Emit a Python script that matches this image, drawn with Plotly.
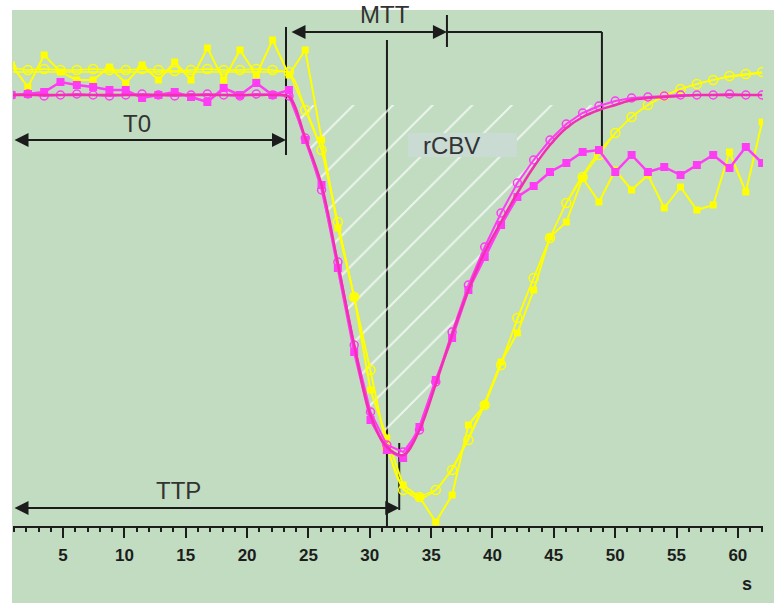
import numpy as np
import plotly.graph_objects as go

# Acquisition times of the dynamic series (s)
time_s = [0.8, 2.13, 3.46, 4.79, 6.12, 7.45, 8.78, 10.11, 11.44, 12.77,
          14.1, 15.43, 16.76, 18.09, 19.42, 20.75, 22.08, 23.41, 24.74, 26.07,
          27.4, 28.73, 30.06, 31.39, 32.72, 34.05, 35.38, 36.71, 38.04, 39.37,
          40.7, 42.03, 43.36, 44.69, 46.02, 47.35, 48.68, 50.01, 51.34, 52.67,
          54.0, 55.33, 56.66, 57.99, 59.32, 60.65, 61.98]

# Signal intensity (arbitrary units) - region 1 (magenta)
magenta_raw = [431, 432, 434, 444, 441, 439, 436, 436, 428, 431,
               434, 429, 424, 438, 431, 443, 431, 436, 386, 341,
               258, 174, 106, 76, 68, 99, 146, 188, 236, 269,
               301, 329, 340, 354, 363, 374, 376, 354, 371, 354,
               359, 351, 361, 371, 358, 379, 363]
magenta_smooth = [431, 432, 430, 431, 432, 431, 430, 431, 432, 431,
                  430, 431, 432, 431, 430, 432, 431, 430, 388, 336,
                  264, 181, 114, 81, 74, 96, 144, 194, 241, 279,
                  313, 343, 366, 386, 402, 413, 420, 425, 428, 429,
                  430, 431, 431, 431, 432, 431, 431]
magenta_fit = [431, 431, 431, 431, 431, 431, 431, 431, 431, 431,
               431, 431, 431, 431, 431, 431, 431, 429, 388, 341,
               262, 181, 111, 79, 71, 96, 142, 191, 236, 274,
               304, 333, 359, 381, 398, 409, 416, 421, 426, 428,
               429, 430, 431, 431, 431, 431, 431]

# Signal intensity (arbitrary units) - region 2 (yellow)
yellow_raw = [461, 439, 471, 454, 446, 446, 459, 443, 461, 446,
              464, 446, 478, 446, 476, 451, 486, 451, 476, 386,
              298, 229, 136, 88, 41, 29, 4, 31, 101, 121,
              164, 193, 236, 289, 304, 348, 324, 356, 336, 351,
              318, 339, 316, 321, 374, 334, 404]
yellow_smooth = [458, 456, 457, 456, 456, 457, 456, 456, 457, 456,
                 455, 456, 457, 456, 456, 457, 456, 454, 416, 376,
                 304, 229, 156, 78, 36, 29, 36, 56, 86, 121,
                 161, 208, 248, 288, 323, 349, 371, 393, 409, 421,
                 430, 437, 442, 446, 450, 452, 454]
yellow_fit = [454, 454, 454, 454, 454, 454, 454, 454, 454, 454,
              454, 454, 454, 454, 454, 454, 454, 453, 418, 376,
              304, 229, 154, 81, 38, 28, 36, 58, 89, 124,
              164, 206, 248, 288, 323, 351, 374, 393, 409, 421,
              430, 437, 442, 446, 449, 451, 453]

# Perfusion parameters (s) and marker levels (signal units)
t0 = 23.17
ttp = 31.40
ttp_end = 32.4
mtt_start = 23.5
mtt_end = 36.29
mtt_limit = 48.92
baseline_level = 421

x_range = [0.92, 62.05]
y_range = [0, 516]

BG = "#c1dcc1"
YELLOW = "#ffff00"
MAGENTA = "#ff3cf5"
MAGENTA_FIT = "#f22fb0"
INK = "#1c1c1c"
TEXT = "#333333"
FONT = "Liberation Sans"

fig = go.Figure()

# Hatched rCBV area between the baseline and the fitted curve
t_arr = np.array(time_s)
fit_arr = np.array(magenta_fit, dtype=float)
sel = (t_arr >= 23.0) & (t_arr <= 50.1)
hx = t_arr[sel]
hy = np.minimum(fit_arr[sel], baseline_level)
fig.add_trace(go.Scatter(x=[hx[0], hx[-1]], y=[baseline_level, baseline_level],
                         mode="lines", line=dict(width=0), hoverinfo="skip",
                         showlegend=False))
fig.add_trace(go.Scatter(x=hx, y=hy, mode="lines", line=dict(width=0, shape="spline"),
                         fill="tonexty", fillcolor="rgba(0,0,0,0)",
                         fillpattern=dict(shape="/", size=28, solidity=0.07,
                                          fgcolor="rgba(255,255,255,0.7)",
                                          bgcolor="rgba(0,0,0,0)", fillmode="replace"),
                         hoverinfo="skip", showlegend=False))

# Region 2 curves
fig.add_trace(go.Scatter(x=time_s, y=yellow_fit, mode="lines",
                         line=dict(color=YELLOW, width=1.5, shape="spline"),
                         showlegend=False))
fig.add_trace(go.Scatter(x=time_s, y=yellow_smooth, mode="lines+markers",
                         line=dict(color=YELLOW, width=1.5),
                         marker=dict(symbol="circle-open", size=9, color=YELLOW,
                                     line=dict(width=1.5, color=YELLOW)),
                         showlegend=False))
fig.add_trace(go.Scatter(x=time_s, y=yellow_raw, mode="lines+markers",
                         line=dict(color=YELLOW, width=2),
                         marker=dict(symbol="square", size=7, color=YELLOW),
                         showlegend=False))

# Region 1 curves
fig.add_trace(go.Scatter(x=time_s, y=magenta_smooth, mode="lines+markers",
                         line=dict(color=MAGENTA, width=2),
                         marker=dict(symbol="circle-open", size=8, color=MAGENTA,
                                     line=dict(width=1.5, color=MAGENTA)),
                         showlegend=False))
fig.add_trace(go.Scatter(x=time_s, y=magenta_raw, mode="lines+markers",
                         line=dict(color=MAGENTA, width=2.5),
                         marker=dict(symbol="square", size=8, color=MAGENTA),
                         showlegend=False))
fig.add_trace(go.Scatter(x=time_s, y=magenta_fit, mode="lines",
                         line=dict(color=MAGENTA_FIT, width=2.5, shape="spline"),
                         showlegend=False))

shapes = []


def vline(x, y0, y1):
    shapes.append(dict(type="line", xref="x", yref="y", x0=x, x1=x, y0=y0, y1=y1,
                       line=dict(color=INK, width=2), layer="below"))


def hline(x0, x1, y):
    shapes.append(dict(type="line", xref="x", yref="y", x0=x0, x1=x1, y0=y, y1=y,
                       line=dict(color=INK, width=2), layer="below"))


vline(t0, 371, 499)          # T0 marker
vline(ttp, 0, 486)           # TTP marker
vline(ttp_end, 16, 83)       # TTP arrow stop
vline(mtt_end, 479, 511)     # MTT arrow stop
hline(mtt_end, mtt_limit, 494)
vline(mtt_limit, 371, 494)

# white frame strips outside the green panel
shapes.append(dict(type="rect", xref="paper", yref="paper", x0=-0.03, x1=1.03,
                   y0=1.0, y1=1.03, fillcolor="white", line=dict(width=0), layer="below"))
shapes.append(dict(type="rect", xref="paper", yref="paper", x0=-0.03, x1=-0.0013,
                   y0=-0.2, y1=1.03, fillcolor="white", line=dict(width=0), layer="below"))
# label box for rCBV
shapes.append(dict(type="rect", xref="x", yref="y", x0=33.11, x1=41.99, y0=369, y1=393,
                   fillcolor="#c9dbd3", line=dict(width=0), layer="above"))


def arrow(x_from, x_to, y):
    return dict(x=x_to, y=y, ax=x_from, ay=y, xref="x", yref="y", axref="x", ayref="y",
                text="", showarrow=True, arrowside="end+start",
                arrowhead=2, startarrowhead=2, arrowsize=1.4, startarrowsize=1.4,
                arrowwidth=2, arrowcolor=INK, standoff=0, startstandoff=0)


label_font = dict(family=FONT, size=24, color=TEXT)
annotations = [
    arrow(x_range[0], t0, 386),
    arrow(mtt_start, mtt_end, 494),
    arrow(x_range[0], ttp_end, 18),
    dict(x=11.03, y=403, xref="x", yref="y", text="T0", showarrow=False, font=label_font),
    dict(x=14.4, y=36, xref="x", yref="y", text="TTP", showarrow=False, font=label_font),
    dict(x=31.24, y=512, xref="x", yref="y", text="MTT", showarrow=False, font=label_font),
    dict(x=36.7, y=381, xref="x", yref="y", text="rCBV", showarrow=False, font=label_font),
    dict(x=0.9787, y=-0.112, xref="paper", yref="paper", xanchor="center", yanchor="middle",
         text="s", showarrow=False,
         font=dict(family=FONT, size=18, color=INK, weight="bold")),
]

fig.update_layout(
    width=774, height=603,
    margin=dict(l=13, r=11, t=10, b=77),
    paper_bgcolor=BG, plot_bgcolor="rgba(0,0,0,0)",
    showlegend=False,
    shapes=shapes, annotations=annotations,
    xaxis=dict(range=x_range, showgrid=False, zeroline=False,
               showline=True, linecolor=INK, linewidth=2,
               ticks="outside", ticklen=10, tickwidth=2, tickcolor=INK,
               tick0=0, dtick=5, ticklabelstandoff=3,
               tickfont=dict(family=FONT, size=17, color=INK, weight="bold"),
               minor=dict(dtick=1, tick0=0, ticks="outside", ticklen=4,
                          tickwidth=1.5, tickcolor=INK, showgrid=False)),
    yaxis=dict(range=y_range, visible=False, showgrid=False, zeroline=False),
)

fig.write_html("out.html")
